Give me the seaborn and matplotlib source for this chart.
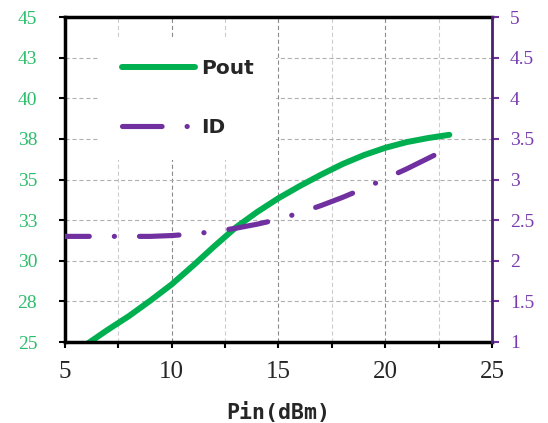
import numpy as np
import pandas as pd
import matplotlib.pyplot as plt
import seaborn as sns
from matplotlib.ticker import MultipleLocator

# data
pin = [5, 6, 7, 8, 9, 10, 11, 12, 13, 14, 15, 16, 17, 18, 19, 20, 21, 22, 23]
pout = [24.0, 24.85, 25.75, 26.6, 27.55, 28.55, 29.7, 30.9, 32.05, 33.0, 33.85,
        34.6, 35.3, 35.95, 36.5, 36.95, 37.3, 37.55, 37.75]
id_amp = [2.30, 2.30, 2.30, 2.30, 2.30, 2.31, 2.33, 2.36, 2.40, 2.45, 2.51,
          2.59, 2.68, 2.78, 2.89, 3.01, 3.13, 3.26, 3.39]

x_ticks = [5, 10, 15, 20, 25]
left_ticks = [25, 27.5, 30, 32.5, 35, 37.5, 40, 42.5, 45]
left_labels = ["25", "28", "30", "33", "35", "38", "40", "43", "45"]
right_ticks = [1, 1.5, 2, 2.5, 3, 3.5, 4, 4.5, 5]
right_labels = ["1", "1.5", "2", "2.5", "3", "3.5", "4", "4.5", "5"]

green = "#00B050"
purple = "#7030A0"

sns.set_style("white")
plt.rcParams['font.family'] = ['Liberation Serif', 'DejaVu Serif']
plt.rcParams['lines.scale_dashes'] = False

df = pd.DataFrame({'Pin': pin, 'Pout': pout, 'ID': id_amp})

fig = plt.figure(figsize=(5.48, 4.23), dpi=100)
ax = fig.add_axes([65 / 548, 1 - 342 / 423, (492 - 65) / 548, (342 - 17) / 423])
ax2 = ax.twinx()

sns.lineplot(data=df, x='Pin', y='Pout', ax=ax, color=green, linewidth=4.3, legend=False)
l1 = ax.lines[-1]
l1.set_solid_capstyle('round')

sns.lineplot(data=df, x='Pin', y='ID', ax=ax2, color=purple, linewidth=3.7, legend=False)
l2 = ax2.lines[-1]
l2.set_linestyle((11, (28.5, 18, 0.1, 18)))
l2.set_dash_capstyle('round')

ax.set_xlim(5, 25)
ax.set_ylim(25, 45)
ax2.set_ylim(1, 5)

ax.set_xticks(x_ticks)
ax.xaxis.set_minor_locator(MultipleLocator(2.5))
ax.set_yticks(left_ticks)
ax.set_yticklabels(left_labels)
ax2.set_yticks(right_ticks)
ax2.set_yticklabels(right_labels)

# grid
ax.grid(which='major', axis='x', color='#8a8a8a', linestyle=(0, (3, 2)), linewidth=0.8)
ax.grid(which='minor', axis='x', color='#cccccc', linestyle=(0, (3, 2)), linewidth=0.8)
ax.grid(which='major', axis='y', color='#b0b0b0', linestyle=(0, (3, 2)), linewidth=0.8)
ax2.grid(False)

ax.tick_params(axis='x', which='both', direction='out', length=4, width=1.5,
               color='black', labelsize=18, pad=10, bottom=True)
ax.tick_params(axis='y', which='major', direction='out', length=4, width=1.5,
               color='black', labelcolor='#2DBE6C', labelsize=14, pad=16, left=True)
ax2.tick_params(axis='y', direction='out', length=5, width=1.5, color=purple,
                labelcolor='#7A3DB0', labelsize=14, pad=8, right=True)

for s in ['left', 'bottom', 'top']:
    ax.spines[s].set_color('black')
    ax.spines[s].set_linewidth(2.5)
ax.spines['right'].set_visible(False)
for s in ['left', 'bottom', 'top']:
    ax2.spines[s].set_visible(False)
ax2.spines['right'].set_color('#4a2070')
ax2.spines['right'].set_linewidth(2)

ax.set_ylabel('')
ax2.set_ylabel('')
ax.set_xlabel('Pin(dBm)', fontfamily='DejaVu Sans Mono', fontweight='bold',
              fontsize=15.5, labelpad=13)

leg = ax2.legend(handles=[l1, l2], labels=['Pout', 'ID'], loc='upper left',
                 bbox_to_anchor=(100 / 548, 1 - 37 / 423), bbox_transform=fig.transFigure,
                 prop={'family': 'DejaVu Sans', 'weight': 'bold', 'size': 14.5},
                 frameon=True, facecolor='white', edgecolor='none', framealpha=1,
                 fancybox=False, handlelength=3.6, handletextpad=0.3,
                 labelspacing=2.0, borderpad=1.1, borderaxespad=0)
leg.get_lines()[1].set_linestyle((0, (28.5, 18, 0.1, 18)))

fig.savefig('out.png', dpi=100)
